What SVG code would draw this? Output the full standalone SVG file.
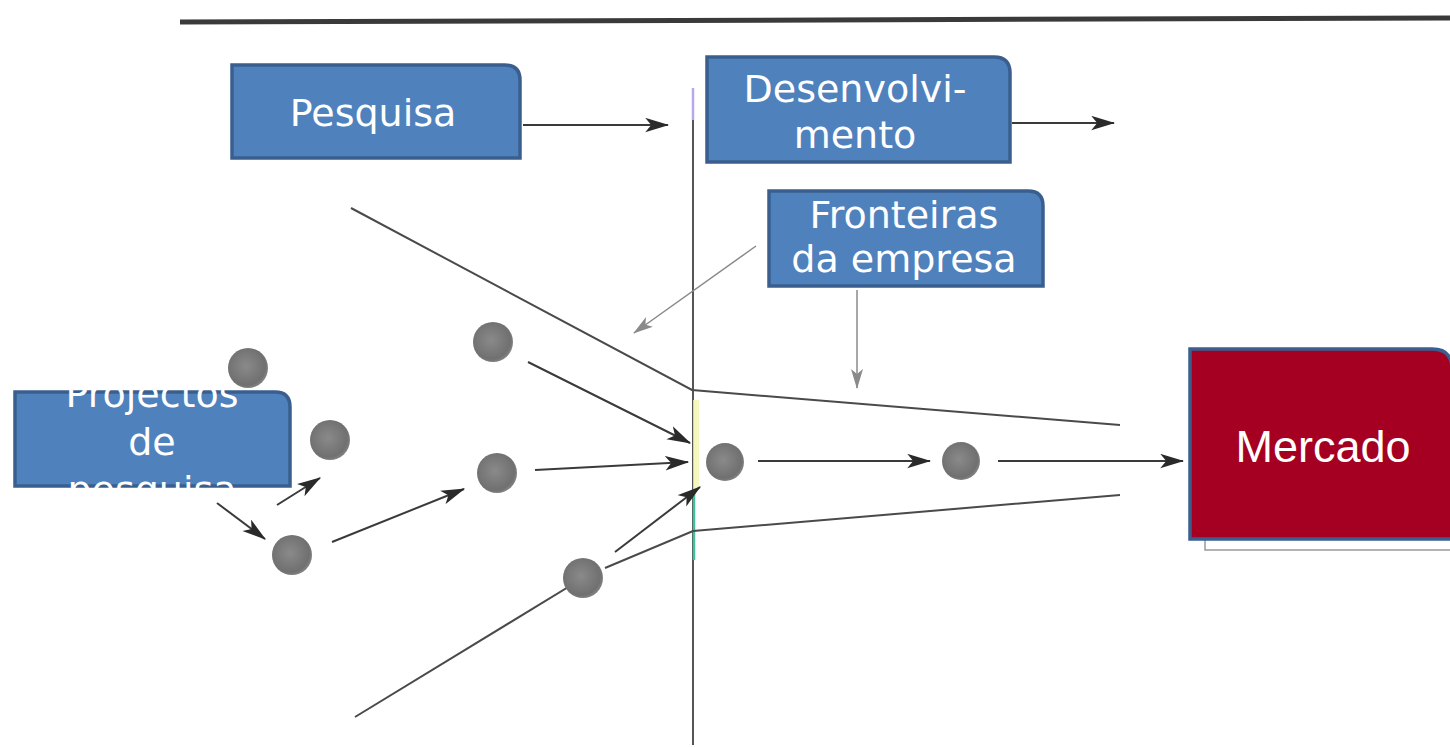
<svg xmlns="http://www.w3.org/2000/svg" width="1450" height="747" viewBox="0 0 1450 747">
<style>
.box{fill:#4F81BD;stroke:#3A5F8E;stroke-width:3.5}
.red{fill:#A50021;stroke:#3A5F8E;stroke-width:3.5}
.t{font-family:"DejaVu Sans",Verdana,sans-serif;font-size:38px;fill:#ffffff;text-anchor:middle}
.tm{font-family:"Liberation Sans",Arial,sans-serif;font-size:45px;fill:#ffffff;text-anchor:middle}
.ln{stroke:#4a4a4a;stroke-width:2;fill:none}
.ar{stroke:#3a3a3a;stroke-width:2;fill:none;marker-end:url(#ah)}
.lt{stroke:#8a8a8a;stroke-width:1.5;fill:none;marker-end:url(#ahl)}
.dot{fill:url(#dg)}
</style>
<defs>
<marker id="ah" viewBox="0 0 20 12" refX="19" refY="6" markerWidth="24" markerHeight="15" markerUnits="userSpaceOnUse" orient="auto">
<path d="M0,0 L20,6 L0,12 L5,6 z" fill="#2a2a2a"/>
</marker>
<marker id="ahl" viewBox="0 0 20 12" refX="19" refY="6" markerWidth="20" markerHeight="12" markerUnits="userSpaceOnUse" orient="auto">
<path d="M0,0 L20,6 L0,12 L5,6 z" fill="#8a8a8a"/>
</marker>
<radialGradient id="dg" cx="0.45" cy="0.45" r="0.6">
<stop offset="0" stop-color="#8a8a8a"/>
<stop offset="0.8" stop-color="#707070"/>
<stop offset="1" stop-color="#8c8c8c"/>
</radialGradient>
</defs>
<rect width="1450" height="747" fill="#ffffff"/>
<line x1="180" y1="22" x2="1450" y2="18" stroke="#3a3a3a" stroke-width="5"/>
<g id="connectors">
<line x1="693" y1="88" x2="693" y2="745" stroke="#555" stroke-width="2"/>
<line x1="693" y1="88" x2="693" y2="120" stroke="#b8a8f0" stroke-width="2.5"/>
<line x1="696" y1="400" x2="696" y2="490" stroke="#f4f4b0" stroke-width="6" opacity="0.8"/>
<line x1="694" y1="490" x2="694" y2="560" stroke="#40c0a0" stroke-width="2.5"/>
<polyline class="ln" points="351,208 692,390 1120,425"/>
<polyline class="ln" points="355,717 583,578"/>
<polyline class="ln" points="605,568 693,531 1120,495"/>
<line class="ar" x1="523" y1="125" x2="668" y2="125"/>
<line class="ar" x1="1012" y1="123" x2="1114" y2="123"/>
<line class="lt" x1="756" y1="246" x2="634" y2="333"/>
<line class="lt" x1="857" y1="290" x2="857" y2="388"/>
<line class="ar" x1="528" y1="362" x2="690" y2="443"/>
<line class="ar" x1="535" y1="470" x2="688" y2="462"/>
<line class="ar" x1="615" y1="552" x2="700" y2="487"/>
<line class="ar" x1="758" y1="461" x2="930" y2="461"/>
<line class="ar" x1="998" y1="461" x2="1183" y2="461"/>
<line class="ar" x1="332" y1="542" x2="464" y2="489"/>
<line class="ar" x1="277" y1="505" x2="320" y2="478"/>
<line class="ar" x1="217" y1="503" x2="265" y2="539"/>
</g>
<g id="dots">
<circle class="dot" cx="248" cy="368" r="20"/>
<circle class="dot" cx="493" cy="342" r="20"/>
<circle class="dot" cx="330" cy="440" r="20"/>
<circle class="dot" cx="497" cy="473" r="20"/>
<circle class="dot" cx="292" cy="555" r="20"/>
<circle class="dot" cx="583" cy="578" r="20"/>
<circle class="dot" cx="725" cy="462" r="19"/>
<circle class="dot" cx="961" cy="461" r="19"/>
</g>
<g id="pesquisa">
<path class="box" d="M232,65 H505 Q520,65 520,80 V158 H232 Z"/>
<text class="t" x="373" y="126">Pesquisa</text>
</g>
<g id="desenvolvimento">
<path class="box" d="M707,57 H994 Q1010,57 1010,73 V162 H707 Z"/>
<text class="t" x="855" y="102">Desenvolvi-</text>
<text class="t" x="855" y="148">mento</text>
</g>
<g id="fronteiras">
<path class="box" d="M769,191 H1028 Q1043,191 1043,206 V286 H769 Z"/>
<text class="t" x="904" y="228">Fronteiras</text>
<text class="t" x="904" y="272">da empresa</text>
</g>
<g id="projectos">
<path class="box" d="M15,392 H275 Q290,392 290,407 V486 H15 Z"/>
<text class="t" x="152" y="407">Projectos</text>
<text class="t" x="152" y="455">de</text>
<text class="t" x="152" y="503">pesquisa</text>
</g>
<g id="mercado">
<polyline points="1205,540 1205,550 1450,550" fill="none" stroke="#999" stroke-width="1.5"/>
<path class="red" d="M1190,349 H1432 Q1452,349 1452,369 V539 H1190 Z"/>
<text class="tm" x="1323" y="462">Mercado</text>
</g>
</svg>
